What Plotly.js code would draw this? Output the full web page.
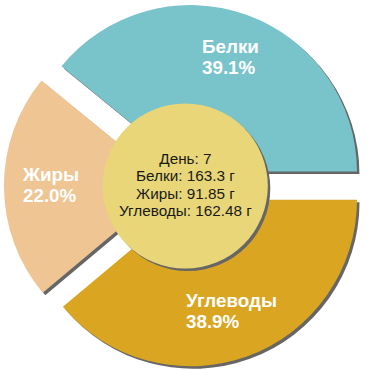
<!DOCTYPE html>
<html><head><meta charset="utf-8">
<script src="https://cdn.plot.ly/plotly-3.0.1.min.js"></script>
<style>html,body{margin:0;padding:0;background:#fff;}#chart{width:370px;height:370px;}</style>
</head><body><div id="chart"></div>
<script>
// ---- data ----
const day = 7;
const categories = ['Белки', 'Жиры', 'Углеводы'];
const grams = [163.3, 91.85, 162.48];
const colors = ['#79C3CB', '#EEC593', '#DAA520'];
const unit = 'г';
const dayLabel = 'День';

// ---- layout constants (pixels) ----
const W = 370, H = 370;
const CX = 185.4, CY = 185.7, R = 166.5, PULL = 0.09, SH = 2.5;
const HOLE_CX = 185.2, HOLE_CY = 186, HOLE_R = 82.6;
const SHADOW = '#666666', HOLE_COLOR = '#E8D678';
const FONT = 'Liberation Sans, Arial, sans-serif';

function dom(cx, cy, half, dx, dy) {
  return {x: [(cx + dx - half) / W, (cx + dx + half) / W],
          y: [1 - (cy + dy + half) / H, 1 - (cy + dy - half) / H]};
}
const half = R * (1 + PULL);
// clockwise from 3 o'clock with reversed order == counterclockwise in data order
const ordLabels = categories.slice().reverse();
const ordValues = grams.slice().reverse();
const ordColors = colors.slice().reverse();

const base = {type: 'pie', labels: ordLabels, values: ordValues, sort: false,
  direction: 'clockwise', rotation: 90, pull: PULL, textinfo: 'none',
  hoverinfo: 'skip', showlegend: false};
const pieShadow = Object.assign({}, base, {
  marker: {colors: ordValues.map(() => SHADOW), line: {width: 0}},
  domain: dom(CX, CY, half, SH, SH)});
const pieMain = Object.assign({}, base, {
  marker: {colors: ordColors, line: {width: 0}},
  domain: dom(CX, CY, half, 0, 0)});
const holeBase = {type: 'pie', values: [1], labels: [''], sort: false, textinfo: 'none',
  hoverinfo: 'skip', showlegend: false};
const holeShadow = Object.assign({}, holeBase, {
  marker: {colors: [SHADOW], line: {width: 0}}, domain: dom(HOLE_CX, HOLE_CY, HOLE_R, SH, SH)});
const hole = Object.assign({}, holeBase, {
  marker: {colors: [HOLE_COLOR], line: {width: 0}}, domain: dom(HOLE_CX, HOLE_CY, HOLE_R, 0, 0)});

// ---- annotations ----
const total = grams.reduce((a, b) => a + b, 0);
const annotations = [];
let cum = 0;
categories.forEach((c, i) => {
  const th = (cum + grams[i] / 2) / total * 2 * Math.PI;
  cum += grams[i];
  const rr = 0.81 * R;
  const px = CX + rr * Math.cos(th), py = CY - rr * Math.sin(th);
  const pct = (grams[i] / total * 100).toFixed(1) + '%';
  annotations.push({
    xref: 'paper', yref: 'paper', x: px / W, y: 1 - (py - 1.5) / H,
    xanchor: 'center', yanchor: 'middle', align: 'left', showarrow: false,
    text: '<span style="font-size:18.8px">' + c + '</span><br><span style="font-size:18.8px">' + pct + '</span>',
    font: {family: FONT, size: 16.4, color: '#ffffff', weight: 'bold'}
  });
});
const centerLines = [dayLabel + ': ' + day].concat(categories.map((c, i) => c + ': ' + grams[i] + ' ' + unit));
annotations.push({
  xref: 'paper', yref: 'paper', x: HOLE_CX / W, y: 1 - (HOLE_CY - 1.5) / H,
  xanchor: 'center', yanchor: 'middle', align: 'center', showarrow: false,
  text: centerLines.map(l => '<span style="font-size:15.3px">' + l + '</span>').join('<br>'),
  font: {family: FONT, size: 13.3, color: '#1a1a1a'}
});

Plotly.newPlot('chart', [pieShadow, pieMain, holeShadow, hole], {
  width: W, height: H, margin: {l: 0, r: 0, t: 0, b: 0},
  paper_bgcolor: '#ffffff', plot_bgcolor: '#ffffff', showlegend: false,
  annotations: annotations
}, {staticPlot: true, displayModeBar: false});
</script></body></html>
